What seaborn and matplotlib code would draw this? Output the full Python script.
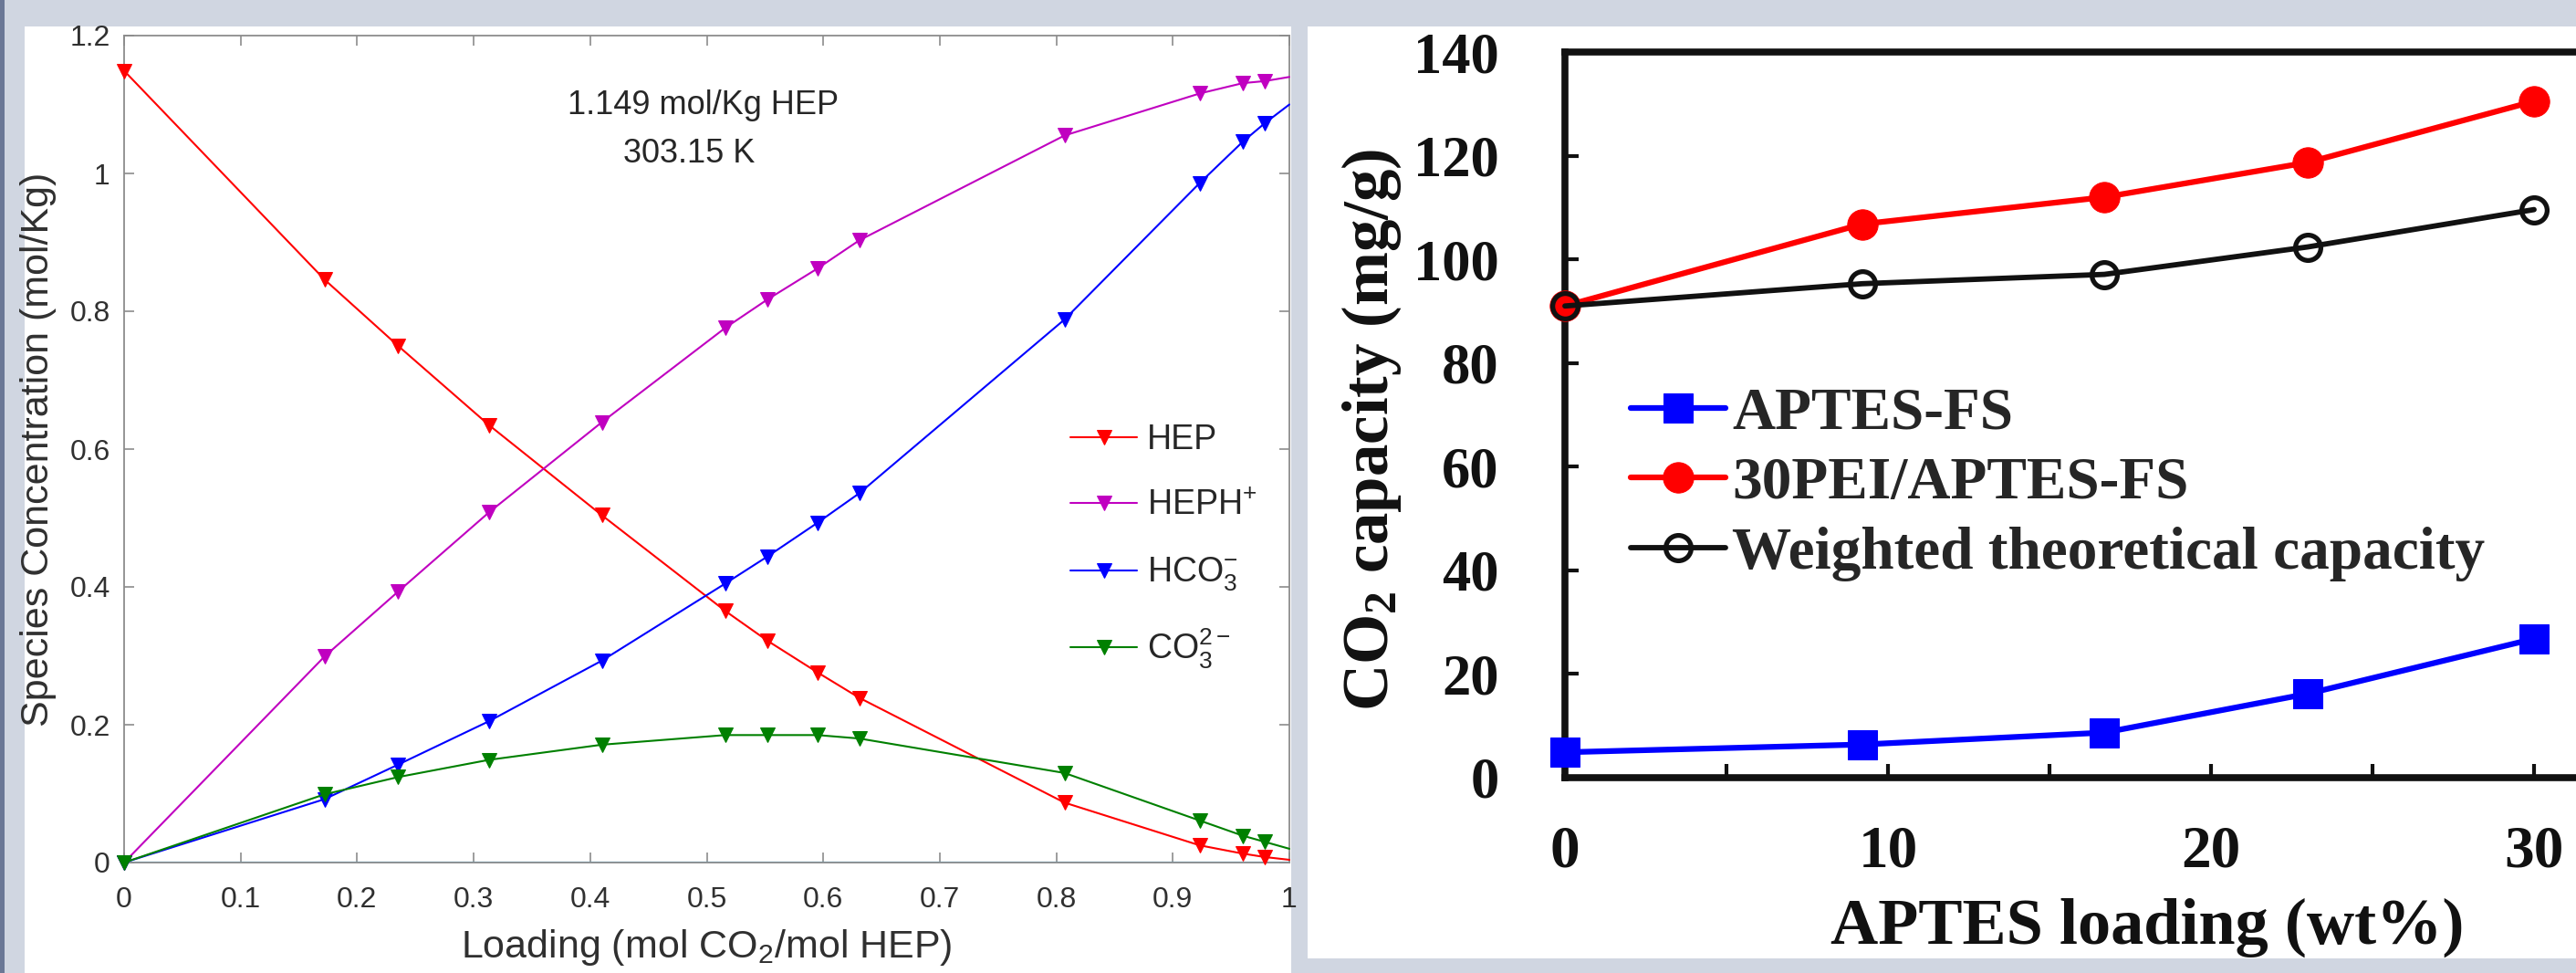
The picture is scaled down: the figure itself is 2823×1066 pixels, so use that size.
import matplotlib
matplotlib.use('Agg')
import matplotlib.pyplot as plt
import seaborn as sns
from matplotlib.patches import Rectangle
from matplotlib.ticker import FixedLocator, FuncFormatter, MultipleLocator

# ---------------- Left panel data ----------------
loading = [0, 0.172, 0.235, 0.313, 0.410, 0.516, 0.552, 0.595, 0.631, 0.807, 0.923, 0.960, 0.979, 1.0]
hep = [1.149, 0.846, 0.750, 0.635, 0.504, 0.365, 0.322, 0.276, 0.239, 0.087, 0.025, 0.013, 0.008, 0.004]
heph = [0, 0.299, 0.393, 0.508, 0.639, 0.776, 0.817, 0.862, 0.903, 1.055, 1.116, 1.131, 1.134, 1.140]
hco3 = [0, 0.092, 0.142, 0.205, 0.293, 0.405, 0.444, 0.493, 0.536, 0.788, 0.986, 1.046, 1.073, 1.100]
co3 = [0, 0.099, 0.124, 0.149, 0.171, 0.185, 0.185, 0.185, 0.180, 0.130, 0.061, 0.039, 0.030, 0.020]
minor_species = [0, 0, 0, 0, 0, 0, 0, 0, 0, 0, 0, 0, 0, 0]
species_labels = ['HEP', 'HEPH$^{+}$', 'HCO$_3^{-}$', 'CO$_3^{2-}$']
species_colors = ['#ff0000', '#c000c0', '#0000ff', '#008000']
left_xticks = [0, 0.1, 0.2, 0.3, 0.4, 0.5, 0.6, 0.7, 0.8, 0.9, 1.0]
left_yticks = [0, 0.2, 0.4, 0.6, 0.8, 1.0, 1.2]

# ---------------- Right panel data ----------------
aptes_loading = [0, 9.2, 16.7, 23.0, 30]
aptes_fs = [4.9, 6.4, 8.7, 16.2, 26.8]
pei_aptes_fs = [91.0, 106.8, 112.0, 118.7, 130.5]
weighted = [91.0, 95.3, 97.1, 102.4, 109.6]
right_labels = ['APTES-FS', '30PEI/APTES-FS', 'Weighted theoretical capacity']
right_xticks = [0, 10, 20, 30]
right_yticks = [0, 20, 40, 60, 80, 100, 120, 140]

sns.set_style('white')
plt.rcParams['font.family'] = ['Liberation Sans', 'DejaVu Sans']
plt.rcParams['mathtext.fontset'] = 'custom'
plt.rcParams['mathtext.rm'] = 'Liberation Sans'
plt.rcParams['mathtext.it'] = 'Liberation Sans:italic'
plt.rcParams['mathtext.bf'] = 'Liberation Sans:bold'
plt.rcParams['mathtext.default'] = 'regular'

W, H = 2823, 1066
fig = plt.figure(figsize=(W / 100, H / 100), dpi=100, facecolor='#d0d6e1')


def box(x0, y0, x1, y1, color):
    fig.patches.append(Rectangle((x0 / W, 1 - y1 / H), (x1 - x0) / W, (y1 - y0) / H,
                                 transform=fig.transFigure, facecolor=color,
                                 edgecolor='none', zorder=-5))


def ax_px(x0, y0, x1, y1):
    return fig.add_axes([x0 / W, 1 - y1 / H, (x1 - x0) / W, (y1 - y0) / H])


box(0, 0, 5, H, '#6b7896')
box(27, 29, 1415, H, 'white')
box(1433, 29, W, 1050, 'white')

# ================= Left panel =================
ax1 = ax_px(136, 39, 1413, 945)
ax1.set_facecolor('white')
sns.lineplot(x=loading, y=minor_species, ax=ax1, color='#4dbeee', linewidth=1.6, zorder=1)
handles = []
for vals, col in zip([hep, heph, hco3, co3], species_colors):
    sns.lineplot(x=loading, y=vals, ax=ax1, color=col, linewidth=1.5, marker='v',
                 markersize=12, markeredgecolor=col, markerfacecolor=col,
                 markevery=list(range(len(loading) - 1)), zorder=3, clip_on=False)
    handles.append(ax1.get_lines()[-1])

ax1.set_xlim(0, 1)
ax1.set_ylim(0, 1.2)
ax1.xaxis.set_major_locator(FixedLocator(left_xticks))
ax1.yaxis.set_major_locator(FixedLocator(left_yticks))
fmt = FuncFormatter(lambda v, p: '%g' % round(v, 2))
ax1.xaxis.set_major_formatter(fmt)
ax1.yaxis.set_major_formatter(fmt)
for s in ax1.spines.values():
    s.set_visible(True)
    s.set_color('#8c8c8c')
    s.set_linewidth(1.3)
ax1.tick_params(axis='both', direction='in', length=8, width=1.2, color='#8c8c8c',
                labelsize=23, labelcolor='#303030', top=True, right=True,
                bottom=True, left=True)
ax1.tick_params(axis='x', pad=19)
ax1.tick_params(axis='y', pad=11)
ax1.set_xlabel('Loading (mol CO$_2$/mol HEP)', fontsize=31, color='#303030')
ax1.set_ylabel('Species Concentration (mol/Kg)', fontsize=31, color='#303030')
ax1.xaxis.set_label_coords(0.5, -0.078)
ax1.yaxis.set_label_coords(-0.058, 0.5)
ax1.text(0.497, 1.086, '1.149 mol/Kg HEP', ha='center', va='baseline', fontsize=26, color='#262626')
ax1.text(0.485, 1.016, '303.15 K', ha='center', va='baseline', fontsize=26, color='#262626')
ax1.legend(handles, species_labels, loc='upper left', bbox_to_anchor=(1173 / W, 1 - 464 / H),
           bbox_transform=fig.transFigure, frameon=False, fontsize=27, handlelength=1.95,
           handletextpad=0.28, labelspacing=0.97, borderpad=0, borderaxespad=0,
           labelcolor='#262626')

# ================= Right panel =================
serif = 'Liberation Serif'
ax2 = ax_px(1715, 57, 1715 + 32 * 35.4, 852)
ax2.set_facecolor('white')
sns.lineplot(x=aptes_loading, y=aptes_fs, ax=ax2, color='#0000ff', linewidth=4.5, marker='s',
             markersize=23, markeredgecolor='#0000ff', markerfacecolor='#0000ff',
             zorder=3, clip_on=False)
sns.lineplot(x=aptes_loading, y=pei_aptes_fs, ax=ax2, color='#ff0000', linewidth=4.5, marker='o',
             markersize=24, markeredgecolor='#ff0000', markerfacecolor='#ff0000',
             zorder=3, clip_on=False)
sns.lineplot(x=aptes_loading, y=weighted, ax=ax2, color='#111111', linewidth=4.2, marker='o',
             markersize=20, markeredgecolor='#111111', markerfacecolor='none',
             markeredgewidth=3.8, zorder=4, clip_on=False)
rh = ax2.get_lines()[-3:]
ax2.set_xlim(0, 32)
ax2.set_ylim(0, 140)
ax2.xaxis.set_major_locator(FixedLocator(right_xticks))
ax2.xaxis.set_minor_locator(MultipleLocator(5))
ax2.yaxis.set_major_locator(FixedLocator(right_yticks))
for s in ax2.spines.values():
    s.set_visible(True)
    s.set_color('#111111')
    s.set_linewidth(5.5)
ax2.tick_params(axis='both', which='both', direction='in', length=11, width=3, color='#111111',
                top=False, right=False, bottom=True, left=True)
ax2.tick_params(axis='x', which='major', labelsize=47, pad=37, labelcolor='#111111')
ax2.tick_params(axis='y', which='major', labelsize=45, pad=52, labelcolor='#111111')
for lab in ax2.get_xticklabels() + ax2.get_yticklabels():
    lab.set_fontfamily(serif)
    lab.set_fontweight('bold')
xl = ax2.set_xlabel('APTES loading (wt%)', fontsize=52, fontfamily=serif, fontweight='bold',
                    color='#111111')
yl = ax2.set_ylabel('CO$_2$ capacity (mg/g)', fontsize=51, fontfamily=serif, fontweight='bold',
                    color='#111111')
yl.set_math_fontfamily('stix')
ax2.xaxis.set_label_coords((2353 - 1715) / (32 * 35.4), -0.165)
ax2.yaxis.set_label_coords((1538 - 1715) / (32 * 35.4), 0.48)
leg2 = ax2.legend(rh, right_labels, loc='upper left', bbox_to_anchor=(1787 / W, 1 - 424 / H),
                  bbox_transform=fig.transFigure, frameon=False, handlelength=1.6,
                  handletextpad=0.1, labelspacing=0.25, borderpad=0, borderaxespad=0,
                  prop={'family': serif, 'weight': 'bold', 'size': 47})

fig.savefig('out.png', dpi=100, facecolor=fig.get_facecolor())
